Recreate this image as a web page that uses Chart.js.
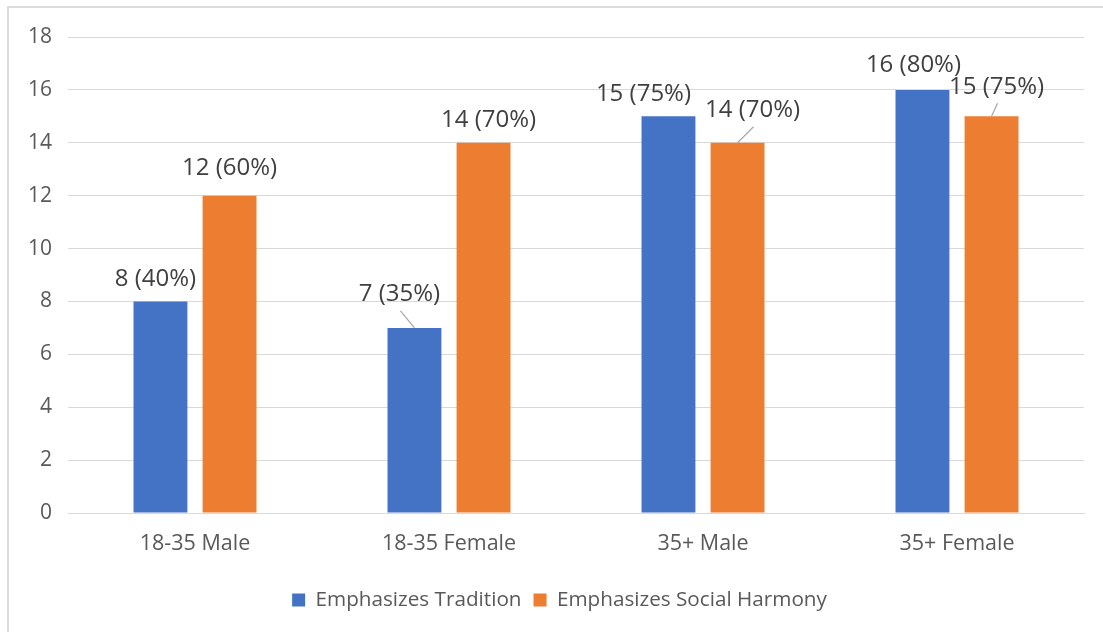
<!DOCTYPE html>
<html>
<head>
<meta charset="utf-8">
<script src="https://cdn.jsdelivr.net/npm/chart.js@4.4.1/dist/chart.umd.min.js"></script>
<style>
    html, body { margin: 0; padding: 0; background: #fff; overflow: hidden; }
    .frame { position: absolute; left: 7px; top: 6px; width: 1200px; height: 800px; border: 2px solid #dcdcdc; }
    .canvasDiv { position: absolute; left: 0; top: 0; width: 1103px; height: 632px; }
</style>
</head>
<body>
<div class="frame"></div>
<div class="canvasDiv">
    <canvas id="bar-chart" width="1103" height="632"></canvas>
</div>
<script>
var groups = ["18-35 Male", "18-35 Female", "35+ Male", "35+ Female"];
var tradition = [8, 7, 15, 16];
var harmony = [12, 14, 14, 15];
var traditionPct = [40, 35, 75, 80];
var harmonyPct = [60, 70, 70, 75];
var yTicks = [0, 2, 4, 6, 8, 10, 12, 14, 16, 18];

// where each value label sits relative to the top of its bar, and which get a leader line
var traditionLabelShift = [[-5, -24], [-15, -35], [-25, -24], [-9, -26]];
var harmonyLabelShift = [[0, -29], [5, -24], [15, -34], [5, -31]];
var traditionLeader = [false, true, false, false];
var harmonyLeader = [false, false, true, true];

var font = "'Open Sans', 'Noto Sans', sans-serif";

var valueLabels = {
    id: "valueLabels",
    afterDatasetsDraw: function (chart) {
        var ctx = chart.ctx;
        var pcts = [traditionPct, harmonyPct];
        var shifts = [traditionLabelShift, harmonyLabelShift];
        var leaders = [traditionLeader, harmonyLeader];
        var size = 24;
        ctx.save();
        ctx.font = size + "px " + font;
        ctx.textAlign = "center";
        ctx.textBaseline = "alphabetic";
        chart.data.datasets.forEach(function (ds, di) {
            var meta = chart.getDatasetMeta(di);
            meta.data.forEach(function (bar, i) {
                var cx = bar.x + shifts[di][i][0];
                var cy = bar.y + shifts[di][i][1];
                if (leaders[di][i]) {
                    ctx.strokeStyle = "#a6a6a6";
                    ctx.lineWidth = 1.2;
                    ctx.beginPath();
                    ctx.moveTo(cx + 1, cy + 18);
                    ctx.lineTo(bar.x, bar.y);
                    ctx.stroke();
                }
                ctx.fillStyle = "#404040";
                ctx.fillText(ds.data[i] + " (" + pcts[di][i] + "%)", cx, cy + size * 0.357);
            });
        });
        ctx.restore();
    }
};

// centre the legend under the plot area instead of the whole canvas
var legendUnderPlot = {
    id: "legendUnderPlot",
    afterLayout: function (chart) {
        chart.legend.left += 35;
    }
};

new Chart(document.getElementById("bar-chart"), {
    type: "bar",
    data: {
        labels: groups,
        datasets: [
            {label: "Emphasizes Tradition", data: tradition, backgroundColor: "#4472C4"},
            {label: "Emphasizes Social Harmony", data: harmony, backgroundColor: "#ED7D31"}
        ]
    },
    options: {
        responsive: false,
        animation: false,
        devicePixelRatio: 1,
        categoryPercentage: 0.544,
        barPercentage: 0.78,
        layout: {padding: {top: 37, right: 19, left: 0, bottom: 11.7}},
        plugins: {
            tooltip: {enabled: false},
            legend: {
                position: "bottom",
                labels: {
                    boxWidth: 13,
                    boxHeight: 13,
                    padding: 12,
                    color: "#595959",
                    font: {family: font, size: 20.7}
                }
            }
        },
        scales: {
            x: {
                grid: {display: false},
                border: {color: "#d9d9d9", width: 1},
                ticks: {color: "#595959", padding: 10, font: {family: font, size: 21.5}},
                afterFit: function (scale) { scale.height = 64.6; }
            },
            y: {
                min: 0,
                max: 18,
                afterBuildTicks: function (scale) {
                    scale.ticks = yTicks.map(function (v) { return {value: v}; });
                },
                grid: {color: "#d9d9d9", lineWidth: 1, drawTicks: false},
                border: {display: false},
                ticks: {color: "#595959", padding: 16, font: {family: font, size: 21}},
                afterFit: function (scale) { scale.width = 68; }
            }
        }
    },
    plugins: [valueLabels, legendUnderPlot]
});
</script>
</body>
</html>
